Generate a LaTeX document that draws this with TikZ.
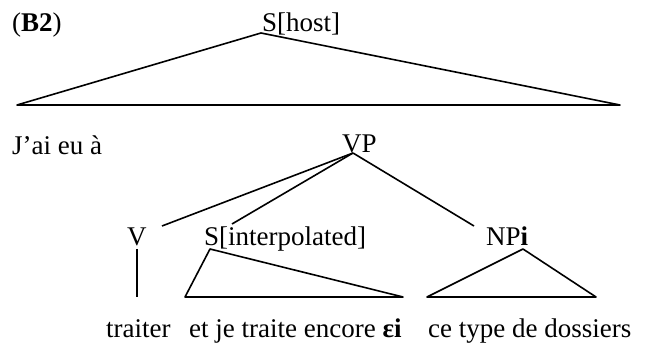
\documentclass[tikz,border=0pt]{standalone}
\usepackage{fontspec}
\setmainfont{Liberation Serif}

\begin{document}
\begin{tikzpicture}[x=1pt, y=-1pt,
  lab/.style={anchor=base west, inner sep=0pt, font=\fontsize{27}{31}\selectfont},
  branch/.style={line width=1.6pt, line join=round}]
  \useasboundingbox (0,0) rectangle (646,344);

  % labels
  \node[lab] (ex)     at (12,32)   {(\textbf{B2})};
  \node[lab] (host)   at (262,32)  {S[host]};
  \node[lab] (jai)    at (12,155)  {J’ai eu à};
  \node[lab] (vp)     at (342,153) {VP};
  \node[lab] (v)      at (127,246) {V};
  \node[lab] (sint)   at (204,246) {S[interpolated]};
  \node[lab] (np)     at (486,246) {NP\textbf{i}};
  \node[lab] (traiter) at (106,338) {traiter};
  \node[lab] (interp) at (189,338) {et je traite encore \textbf{εi}};
  \node[lab] (dossiers) at (428,338) {ce type de dossiers};

  % tree points
  \coordinate (host-top) at (261,33);
  \coordinate (host-l)   at (17,105);
  \coordinate (host-r)   at (620,105);
  \coordinate (vp-top)   at (353,153);
  \coordinate (v-end)    at (162,226);
  \coordinate (sint-end) at (232,224);
  \coordinate (np-end)   at (474,226);
  \coordinate (v-top)    at (137,249);
  \coordinate (v-bot)    at (137,297);
  \coordinate (sint-top) at (210,249);
  \coordinate (sint-l)   at (185,297);
  \coordinate (sint-r)   at (403,297);
  \coordinate (np-top)   at (523,249);
  \coordinate (np-l)     at (427,297);
  \coordinate (np-r)     at (596,297);

  \draw[branch] (host-top) -- (host-l) -- (host-r) -- cycle;
  \draw[branch] (vp-top) -- (v-end);
  \draw[branch] (vp-top) -- (sint-end);
  \draw[branch] (vp-top) -- (np-end);
  \draw[branch] (v-top) -- (v-bot);
  \draw[branch] (sint-top) -- (sint-l) -- (sint-r) -- cycle;
  \draw[branch] (np-top) -- (np-l) -- (np-r) -- cycle;
\end{tikzpicture}
\end{document}
